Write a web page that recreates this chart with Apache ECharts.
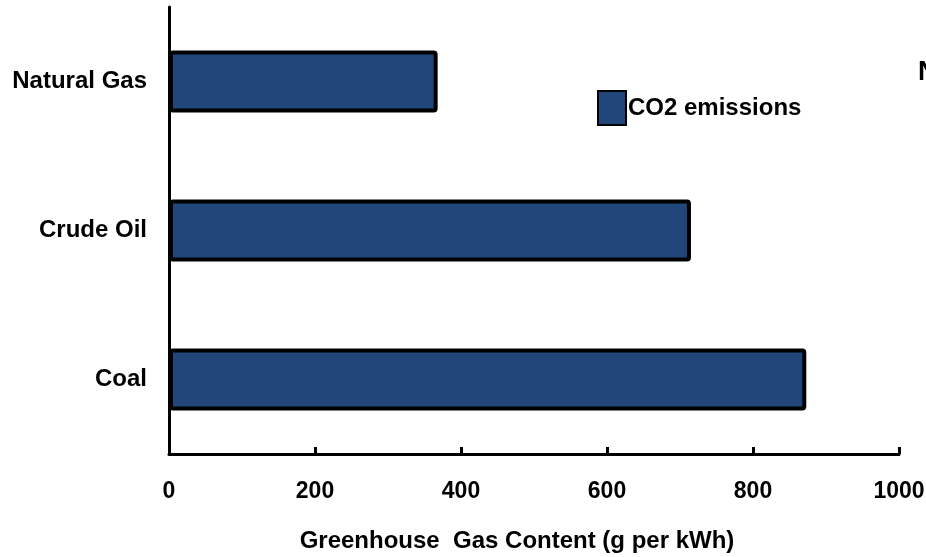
<!DOCTYPE html>
<html><head><meta charset="utf-8">
<script src="https://cdn.jsdelivr.net/npm/echarts@6/dist/echarts.min.js"></script>
<style>html,body{margin:0;padding:0;background:#fff}#c{width:926px;height:557px}</style>
</head><body><div id="c"></div>
<script>
const categories = ['Coal', 'Crude Oil', 'Natural Gas'];
const co2Values = [873, 715, 368];
const seriesName = 'CO2 emissions';
const xAxisTitle = 'Greenhouse  Gas Content (g per kWh)';
const cutOffText = 'N';

const FONT = '"Liberation Sans", Arial, sans-serif';
const chart = echarts.init(document.getElementById('c'));
chart.setOption({
  animation: false,
  backgroundColor: '#fff',
  grid: { left: 169, right: 27, top: 7, bottom: 103, containLabel: false, outerBoundsMode: 'none' },
  legend: {
    left: 592, top: 85, itemWidth: 28, itemHeight: 34, itemGap: 4,
    icon: 'rect',
    textStyle: { fontFamily: FONT, fontWeight: 'bold', fontSize: 24, color: '#000', padding: [0, 0, 0, -3] },
    data: [seriesName]
  },
  xAxis: {
    type: 'value', min: 0, max: 1000, interval: 200,
    axisLine: { show: true, lineStyle: { color: '#000', width: 3 } },
    axisTick: { show: true, inside: true, length: 7, lineStyle: { color: '#000', width: 3 } },
    splitLine: { show: false },
    axisLabel: { fontFamily: FONT, fontWeight: 'bold', fontSize: 23, color: '#000', margin: 26, showMaxLabel: true,
      formatter: function (v) { return String(v); } },
    name: xAxisTitle, nameLocation: 'middle', nameGap: 75,
    nameTextStyle: { fontFamily: FONT, fontWeight: 'bold', fontSize: 24, color: '#000', padding: [0, 34, 0, 0] }
  },
  yAxis: {
    type: 'category', data: categories,
    axisLine: { show: true, lineStyle: { color: '#000', width: 3 } },
    axisTick: { show: false },
    axisLabel: { fontFamily: FONT, fontWeight: 'bold', fontSize: 24, color: '#000', margin: 22 }
  },
  graphic: [{
    type: 'text', left: 918, top: 59,
    style: { text: cutOffText, fontFamily: FONT, fontWeight: 'bold', fontSize: 27, fill: '#000' }
  }],
  series: [{
    name: seriesName, type: 'bar', data: co2Values, barWidth: 62,
    itemStyle: { color: '#21467A', borderColor: '#000', borderWidth: 4, borderRadius: 2 }
  }]
});
</script></body></html>
